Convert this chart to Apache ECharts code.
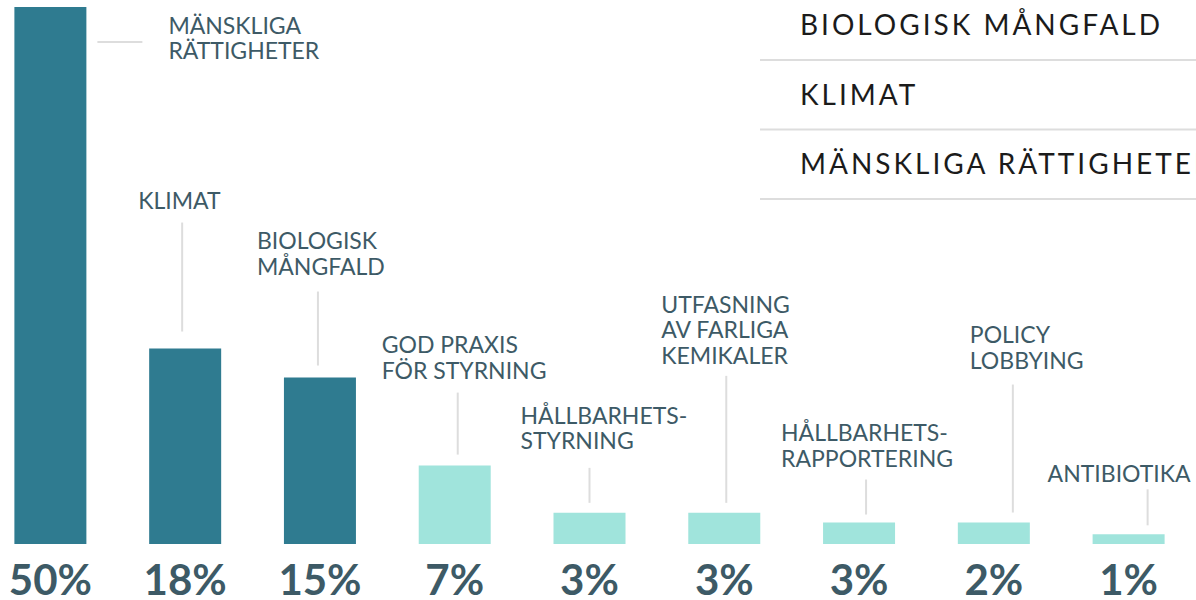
<!DOCTYPE html>
<html>
<head>
<meta charset="utf-8">
<script src="https://cdn.jsdelivr.net/npm/echarts@6/dist/echarts.min.js"></script>
<style>
  html, body { margin: 0; padding: 0; background: #fff; }
  #chart { width: 1196px; height: 600px; }
  /* spärrad text i listan uppe till höger */
  #chart text[fill="#1b1b1b"] { letter-spacing: 3px; }
</style>
</head>
<body>
<div id="chart"></div>
<script>
// kategorier, som de står vid staplarna
const categories = [
  'MÄNSKLIGA\nRÄTTIGHETER',
  'KLIMAT',
  'BIOLOGISK\nMÅNGFALD',
  'GOD PRAXIS\nFÖR STYRNING',
  'HÅLLBARHETS-\nSTYRNING',
  'UTFASNING\nAV FARLIGA\nKEMIKALER',
  'HÅLLBARHETS-\nRAPPORTERING',
  'POLICY\nLOBBYING',
  'ANTIBIOTIKA'
]
// andel i procent (stapelhöjd)
const shares = [50, 18.2, 15.5, 7.3, 2.9, 2.9, 2.0, 2.0, 0.9]
// etiketter under staplarna
const pctLabels = ['50%', '18%', '15%', '7%', '3%', '3%', '3%', '2%', '1%']
// de tre största områdena markeras mörkt
const highlighted = [true, true, true, false, false, false, false, false, false]
// listan uppe till höger
const legendItems = ['BIOLOGISK MÅNGFALD', 'KLIMAT', 'MÄNSKLIGA RÄTTIGHETER']

const DARK = '#2f7b90'
const LIGHT = '#a0e4dc'
const TEXT = '#3d5a66'
const RULE = '#dddddd'

// placering av etikett och hjälplinje, relativt stapelns topp
// [etikett dx, etikett dy (versaltopp), linje dx, linje topp, linje botten]
const labelLayout = [
  [118, 10, 0, 0, 0],
  [-47, -156, -3, -126, -17],
  [-63, -145, -2, -86, -12],
  [-73, -129, 3, -73, -11],
  [-69, -106, 0, -45, -10],
  [-63, -217, 2, -137, -10],
  [-78, -98, 7, -43, -8],
  [-24, -196, 19, -138, -10],
  [-81, -69, 19, -45, -9]
]

const chart = echarts.init(document.getElementById('chart'), null, { renderer: 'svg' })

const legendGraphics = []
legendItems.forEach((name, i) => {
  legendGraphics.push({
    type: 'text',
    left: 800,
    top: 10 + i * 69.5,
    style: { text: name, font: '28px Lato', fill: '#1b1b1b' }
  })
  legendGraphics.push({
    type: 'line',
    shape: { x1: 760, y1: 60 + i * 69.5, x2: 1196, y2: 60 + i * 69.5 },
    style: { stroke: RULE, lineWidth: 2 }
  })
})

const option = {
  animation: false,
  grid: { left: -17, right: 0, top: 7, bottom: 56, outerBoundsMode: 'none', containLabel: false },
  xAxis: {
    type: 'category',
    data: categories,
    axisLine: { show: false },
    axisTick: { show: false },
    axisLabel: {
      interval: 0,
      margin: 19,
      fontFamily: 'Lato',
      fontWeight: 'bold',
      fontSize: 42,
      lineHeight: 32,
      color: TEXT,
      formatter: (v, i) => pctLabels[i]
    }
  },
  yAxis: {
    type: 'value',
    min: 0,
    max: 50,
    show: false,
    splitLine: { show: false }
  },
  graphic: legendGraphics,
  series: [
    {
      type: 'bar',
      barWidth: 72,
      data: shares.map((v, i) => ({
        value: v,
        itemStyle: { color: highlighted[i] ? DARK : LIGHT }
      }))
    },
    {
      // etiketter med hjälplinjer
      type: 'custom',
      silent: true,
      data: shares.map((v, i) => [i, v]),
      renderItem (params, api) {
        const i = params.dataIndex
        const p = api.coord([api.value(0), api.value(1)])
        const cx = p[0]
        const ty = p[1]
        const l = labelLayout[i]
        const children = [{
          type: 'text',
          style: {
            text: categories[i],
            x: cx + l[0],
            y: ty + l[1] - 5,
            font: '23px Lato',
            lineHeight: 25.5,
            fill: TEXT,
            verticalAlign: 'top'
          }
        }]
        if (i === 0) {
          children.push({
            type: 'line',
            shape: { x1: cx + 47, y1: ty + 35, x2: cx + 92, y2: ty + 35 },
            style: { stroke: RULE, lineWidth: 2 }
          })
        } else {
          children.push({
            type: 'line',
            shape: { x1: cx + l[2], y1: ty + l[3], x2: cx + l[2], y2: ty + l[4] },
            style: { stroke: RULE, lineWidth: 2 }
          })
        }
        return { type: 'group', children }
      }
    }
  ]
}

chart.setOption(option)
</script>
</body>
</html>
